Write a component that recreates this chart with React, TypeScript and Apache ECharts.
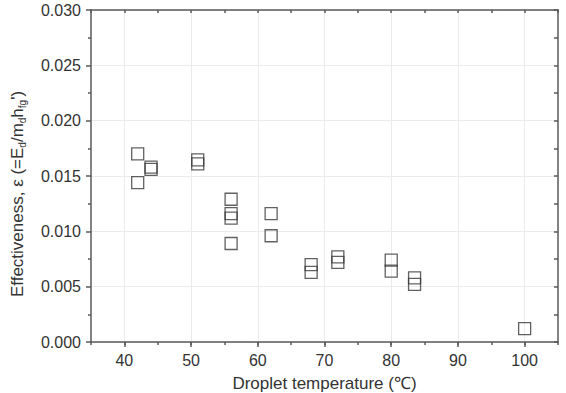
import React, { useEffect, useRef } from "react";
import * as echarts from "echarts";

const temps = [42, 42, 44, 44, 51, 51, 56, 56, 56, 56, 62, 62, 68, 68, 72, 72, 80, 80, 83.5, 83.5, 100];
const effectiveness = [
  0.017, 0.0144, 0.0158, 0.0156, 0.01645, 0.0161, 0.0129, 0.0116, 0.0112, 0.0089, 0.0116, 0.0096,
  0.007, 0.0063, 0.0077, 0.0072, 0.0074, 0.0064, 0.0058, 0.0052, 0.0012,
];
const xMajorTicks = [40, 50, 60, 70, 80, 90, 100];

export default function App() {
  const ref = useRef<HTMLDivElement>(null);
  useEffect(() => {
    if (!ref.current) return;
    const chart = echarts.init(ref.current, null, { renderer: "svg" });
    const axisColor = "#5a5a5a";
    const font = "Liberation Sans, Arial, sans-serif";
    chart.setOption({
      animation: false,
      grid: { left: 91, right: 8, top: 10, bottom: 51, containLabel: false, outerBoundsMode: "none" },
      xAxis: [
        {
          type: "value",
          position: "bottom",
          min: 35,
          max: 105,
          name: "Droplet temperature (℃)",
          nameLocation: "middle",
          nameGap: 32,
          nameTextStyle: { fontSize: 17, color: "#333", fontFamily: font, lineHeight: 18 },
          axisLine: { show: true, onZero: false, lineStyle: { color: axisColor, width: 1.5 } },
          axisTick: { show: true, inside: false, length: 5, customValues: xMajorTicks, lineStyle: { color: axisColor, width: 1.5 } },
          axisLabel: { show: true, customValues: xMajorTicks, margin: 10, fontSize: 16, color: "#333", fontFamily: font },
          splitLine: { show: true, lineStyle: { color: "#ebebeb", width: 1 } },
        },
        {
          type: "value",
          position: "bottom",
          min: 35,
          max: 105,
          interval: 5,
          axisLine: { show: false },
          axisTick: { show: true, inside: false, length: 3, lineStyle: { color: axisColor, width: 1.5 } },
          axisLabel: { show: false },
          splitLine: { show: false },
        },
        {
          type: "value",
          position: "top",
          min: 35,
          max: 105,
          interval: 5,
          axisLine: { show: true, onZero: false, lineStyle: { color: axisColor, width: 1.5 } },
          axisTick: { show: true, inside: true, length: 3, lineStyle: { color: axisColor, width: 1.5 } },
          axisLabel: { show: false },
          splitLine: { show: false },
        },
      ],
      yAxis: [
        {
          type: "value",
          position: "left",
          min: 0,
          max: 0.03,
          interval: 0.005,
          name: "Effectiveness, ε (=E{s|d}/m{s|d}h{s|fg}')",
          nameLocation: "middle",
          nameGap: 64,
          nameTextStyle: {
            fontSize: 17,
            color: "#333",
            fontFamily: font,
            lineHeight: 20,
            padding: [0, 36, 0, 0],
            rich: { s: { fontSize: 10, verticalAlign: "bottom", color: "#333", fontFamily: font, lineHeight: 20 } },
          },
          axisLine: { show: true, onZero: false, lineStyle: { color: axisColor, width: 1.5 } },
          axisTick: { show: true, inside: false, length: 5, lineStyle: { color: axisColor, width: 1.5 } },
          minorTick: { show: true, splitNumber: 2, length: 3, lineStyle: { color: axisColor, width: 1.5 } },
          axisLabel: {
            show: true,
            margin: 10,
            fontSize: 16,
            color: "#333",
            fontFamily: font,
            formatter: (v: number) => v.toFixed(3),
          },
          splitLine: { show: true, lineStyle: { color: "#ebebeb", width: 1 } },
        },
        {
          type: "value",
          position: "right",
          min: 0,
          max: 0.03,
          interval: 0.0025,
          axisLine: { show: true, onZero: false, lineStyle: { color: axisColor, width: 1.5 } },
          axisTick: { show: true, inside: true, length: 4, lineStyle: { color: axisColor, width: 1.5 } },
          axisLabel: { show: false },
          splitLine: { show: false },
        },
      ],
      series: [
        {
          type: "scatter",
          xAxisIndex: 0,
          yAxisIndex: 0,
          symbol: "rect",
          symbolSize: 12,
          itemStyle: { color: "rgba(255,255,255,0)", borderColor: "#3a3a3a", borderWidth: 1.3 },
          data: temps.map((t, i) => [t, effectiveness[i]]),
        },
      ],
    });
    return () => chart.dispose();
  }, []);
  return <div ref={ref} style={{ width: 566, height: 393, position: "absolute", left: 0, top: 0 }} />;
}
